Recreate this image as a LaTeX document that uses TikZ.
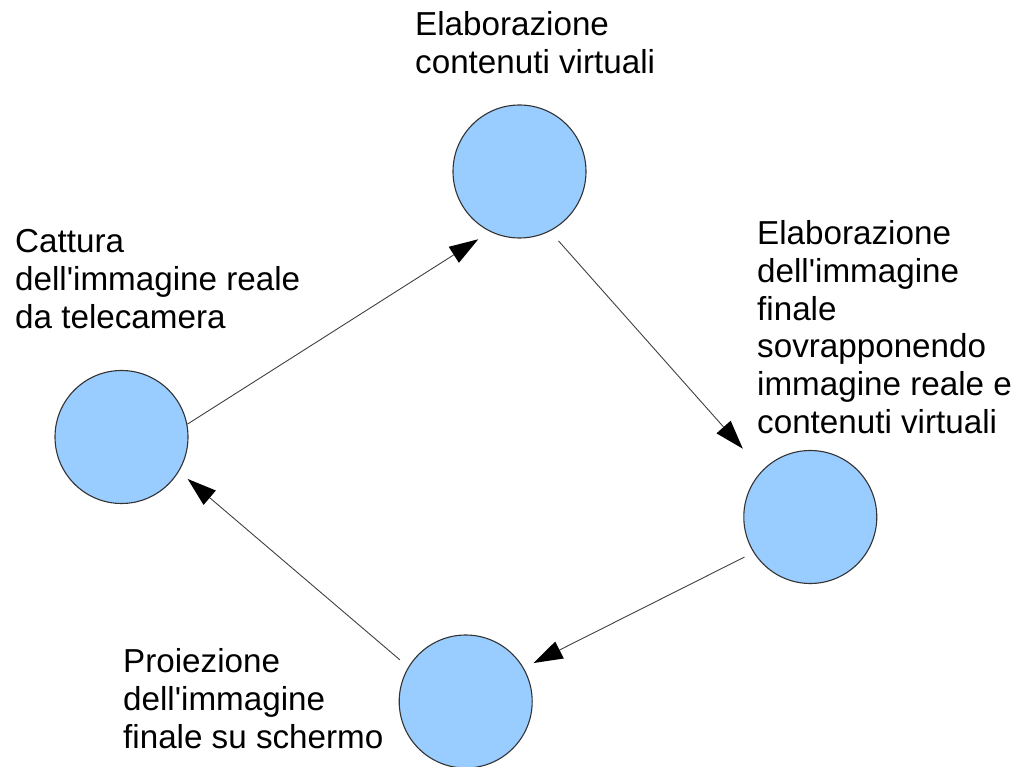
\documentclass[tikz,border=0pt]{standalone}
\usepackage{fontspec}
\setmainfont{Liberation Sans}
\usetikzlibrary{arrows.meta}
\definecolor{discfill}{HTML}{99CCFF}
\definecolor{discedge}{HTML}{333333}
\definecolor{flowline}{HTML}{404040}
\newcommand{\ap}{\textquotesingle}
\begin{document}
\begin{tikzpicture}[x=1pt,y=-1pt,
  disc/.style={circle,draw=discedge,line width=1.1pt,fill=discfill,minimum size=133pt,inner sep=0pt},
  % anchored at the baseline of the last line
  caption/.style={anchor=base west,inner sep=0pt,align=left,font=\fontsize{33.2}{38}\selectfont},
  flow/.style={draw=flowline,line width=0.9pt,-{Triangle[length=29pt,width=19pt,fill=black,line width=0pt]}}
]
\useasboundingbox (0,0) rectangle (1021,767);

% the four stages of the cycle
\node[disc] (cap)  at (121.5,437) {};
\node[disc] (virt) at (519.5,171.5) {};
\node[disc] (comp) at (810.3,517) {};
\node[disc] (proj) at (465.7,701.5) {};

% stage descriptions
\node[caption] (tcap)  at (15,329)  {Cattura\\dell\ap immagine reale\\da telecamera};
\node[caption] (tvirt) at (415,74)  {Elaborazione\\contenuti virtuali};
\node[caption] (tcomp) at (757,434) {Elaborazione\\dell\ap immagine\\finale\\sovrapponendo\\immagine reale e\\contenuti virtuali};
\node[caption] (tproj) at (123,748) {Proiezione\\dell\ap immagine\\finale su schermo};

% flow between stages
\draw[flow,shorten >=14pt] (cap.11.9) -- (virt.244.4);
\draw[flow,shorten <=12.9pt,shorten >=29pt] (virt.297.8) -- (comp.136.1);
\draw[flow,shorten <=10pt,shorten >=11pt] (comp.212) -- (proj.30.3);
\draw[flow,shorten <=10.9pt,shorten >=11.4pt] (proj.149.8) -- (cap.329.35);
\end{tikzpicture}
\end{document}
